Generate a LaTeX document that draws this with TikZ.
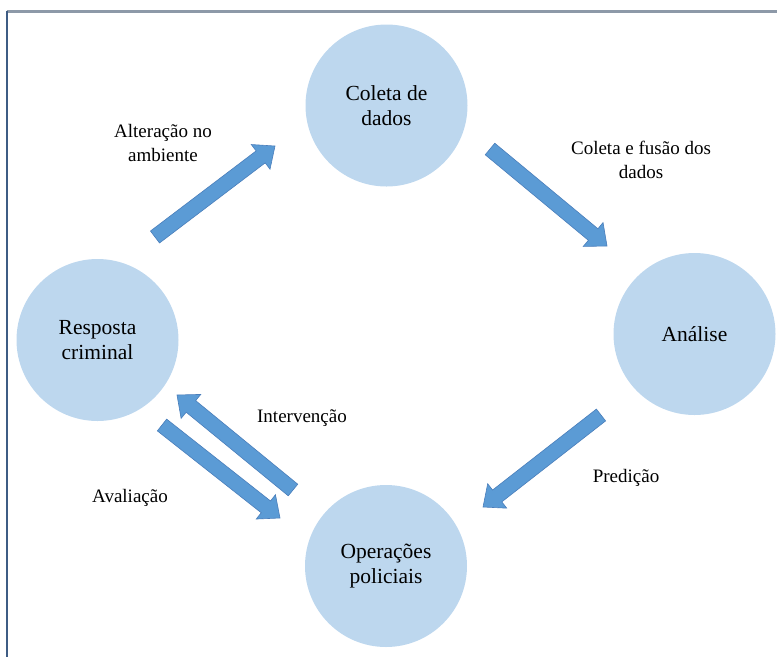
\documentclass[tikz,border=0pt]{standalone}
\usepackage{fontspec}
\setmainfont{Liberation Serif}
\newfontfamily\serifx{Liberation Serif}
\usetikzlibrary{calc}
\definecolor{circfill}{HTML}{BDD7EE}
\definecolor{arrfill}{HTML}{5B9BD5}
\definecolor{arrline}{HTML}{4A7EBB}
\definecolor{topframe}{HTML}{8D99A8}
\definecolor{leftframe}{HTML}{3E5C84}
\newcommand\blockarrow[2]{%
  \coordinate (hb) at ($(#2)!18pt!(#1)$);
  \filldraw[blockarr]
    ($(#1)!7.5pt!90:(#2)$) -- ($(hb)!7.5pt!-90:(#1)$) -- ($(hb)!15.5pt!-90:(#1)$)
    -- (#2) -- ($(hb)!15.5pt!90:(#1)$) -- ($(hb)!7.5pt!90:(#1)$)
    -- ($(#1)!7.5pt!-90:(#2)$) -- cycle;}
\begin{document}
\begin{tikzpicture}[x=1pt,y=-1pt,
  stage/.style={circle, fill=circfill, minimum size=162pt, inner sep=0pt, align=center,
    font=\serifx\fontsize{21.5}{25}\selectfont},
  elabel/.style={align=center, inner sep=0pt, font=\serifx\fontsize{19}{24}\selectfont},
  blockarr/.style={fill=arrfill, draw=arrline, line width=0.6pt, line join=miter}]
\useasboundingbox (0,0) rectangle (777,657);
\coordinate (ftl) at (6.5,11);
\coordinate (ftr) at (777,11);
\coordinate (fbl) at (6.5,657);
\draw[topframe, line width=3pt] (ftl) -- (ftr);
\draw[leftframe, line width=2pt] (ftl) -- (fbl);

\node[stage] (coleta) at (386.5,105.5) {Coleta de\\dados};
\node[stage] (analise) at (694.5,334) {Análise};
\node[stage] (resposta) at (97.5,340) {Resposta\\criminal};
\node[stage] (operacoes) at (386,566) {Operações\\policiais};

\coordinate (a1t) at (155,237);  \coordinate (a1h) at (275,146);
\coordinate (a2t) at (490,149);  \coordinate (a2h) at (607,246);
\coordinate (a3t) at (601,415);  \coordinate (a3h) at (483,507);
\coordinate (a4t) at (293,490);  \coordinate (a4h) at (177,395);
\coordinate (a5t) at (162,425);  \coordinate (a5h) at (280,518);
\blockarrow{a1t}{a1h}
\blockarrow{a2t}{a2h}
\blockarrow{a3t}{a3h}
\blockarrow{a4t}{a4h}
\blockarrow{a5t}{a5h}

\node[elabel] (lalt) at (163,143) {Alteração no\\ambiente};
\node[elabel] (lcol) at (641,160) {Coleta e fusão dos\\dados};
\node[elabel] (lpre) at (626,478) {Predição};
\node[elabel] (lint) at (302,418) {Intervenção};
\node[elabel] (lava) at (130,498) {Avaliação};
\end{tikzpicture}
\end{document}
